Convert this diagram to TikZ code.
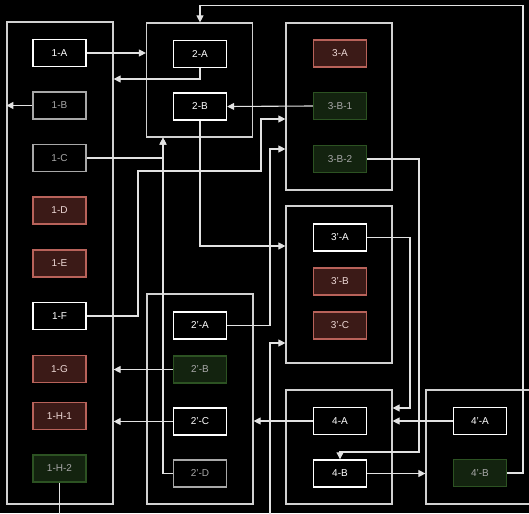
\documentclass[tikz,border=0pt]{standalone}
\usepackage{fontspec}
\setmainfont{Liberation Sans}
\usetikzlibrary{arrows.meta}
\definecolor{redfill}{HTML}{3B1A17}
\definecolor{redline}{HTML}{B8625A}
\definecolor{greenfill}{HTML}{13230F}
\definecolor{greenline}{HTML}{2C5222}
\definecolor{grayline}{HTML}{A8A8A8}
\definecolor{frameline}{HTML}{D0D0D0}
\definecolor{edgeline}{HTML}{E2E2E2}
\begin{document}
\begin{tikzpicture}[x=1pt,y=-1pt,
  box/.style={draw, line width=1.4pt, minimum width=53pt, minimum height=27pt, inner sep=0pt, font=\fontsize{10}{11}\selectfont},
  wbox/.style={box, draw=white, fill=black, text=white},
  gbox/.style={box, draw=grayline, fill=black, text=grayline},
  rbox/.style={box, draw=redline, fill=redfill, text=white!75!redline},
  grbox/.style={box, draw=greenline, fill=greenfill, text=grayline},
  grp/.style={draw=frameline, line width=1.2pt, inner sep=0pt, minimum width=106pt},
  arr/.style={draw=edgeline, line width=1.1pt, -{Triangle[length=7pt,width=7pt]}},
  ln/.style={draw=edgeline, line width=1.1pt}]
\useasboundingbox (0,0) rectangle (529,513);
\fill[black] (0,0) rectangle (529,513);
\clip (0,0) rectangle (529,513);
% groups
\node[grp, minimum height=482pt] (G1) at (60,263) {};
\node[grp, minimum height=114pt] (G2) at (199.5,80) {};
\node[grp, minimum height=167pt] (G3) at (339,106.5) {};
\node[grp, minimum height=157pt] (G3p) at (339,284.5) {};
\node[grp, minimum height=210pt] (G2p) at (200,399) {};
\node[grp, minimum height=114pt] (G4) at (339,447) {};
\node[grp, minimum height=114pt] (G4p) at (479,447) {};
% group 1
\node[wbox] (n1A) at (59.5,53) {1-A};
\node[gbox] (n1B) at (59.5,105.5) {1-B};
\node[gbox] (n1C) at (59.5,158) {1-C};
\node[rbox] (n1D) at (59.5,210.5) {1-D};
\node[rbox] (n1E) at (59.5,263.5) {1-E};
\node[wbox] (n1F) at (59.5,316) {1-F};
\node[rbox] (n1G) at (59.5,369) {1-G};
\node[rbox] (n1H1) at (59.5,416) {1-H-1};
\node[grbox] (n1H2) at (59.5,468.5) {1-H-2};
% group 2
\node[wbox] (n2A) at (200,54) {2-A};
\node[wbox] (n2B) at (200,106.5) {2-B};
% group 3
\node[rbox] (n3A) at (340,53.5) {3-A};
\node[grbox] (n3B1) at (340,106) {3-B-1};
\node[grbox] (n3B2) at (340,159) {3-B-2};
% group 3'
\node[wbox] (n3pA) at (340,237.5) {3'-A};
\node[rbox] (n3pB) at (340,281.5) {3'-B};
\node[rbox] (n3pC) at (340,325.5) {3'-C};
% group 2'
\node[wbox] (n2pA) at (200,325.5) {2'-A};
\node[grbox] (n2pB) at (200,369.5) {2'-B};
\node[wbox] (n2pC) at (200,421.5) {2'-C};
\node[gbox] (n2pD) at (200,473.5) {2'-D};
% group 4
\node[wbox] (n4A) at (340,421) {4-A};
\node[wbox] (n4B) at (340,473.5) {4-B};
% group 4'
\node[wbox] (n4pA) at (480,421) {4'-A};
\node[grbox] (n4pB) at (480,473) {4'-B};
% connectors
\draw[arr] (n1A.east) -- (n1A.east -| G2.west);
\draw[arr] (n2A.south) |- (G1.east |- 0,79);
\draw[arr] (n1B.west) -- (n1B.west -| G1.west);
\draw[arr] (n3B1.west) -- (n2B.east);
\draw[arr] (n1C.east) -| (G2.south -| 163,0);
\draw[arr] (n2pD.west) -| (G2.south -| 163,0);
\draw[arr] (n2B.south) |- (G3p.west |- 0,246);
\draw[arr] (n1F.east) -- (138,316) -- (138,171) -- (261,171) -- (261,119) -- (G3.west |- 0,119);
\draw[arr] (n2pA.east) -- (270,325.5) -- (270,149) -- (G3.west |- 0,149);
\draw[arr] (n1H2.south) -- (59.5,530) -- (270,530) -- (270,343) -- (G3p.west |- 0,343);
\draw[arr] (n3B2.east) -- (419,159) -- (419,452) -- (340,452) -- (n4B.north);
\draw[arr] (n3pA.east) -- (410,237.5) -- (410,408) -- (G4.east |- 0,408);
\draw[arr] (n4pA.west) -- (n4pA.west -| G4.east);
\draw[arr] (n4A.west) -- (n4A.west -| G2p.east);
\draw[arr] (n2pC.west) -- (n2pC.west -| G1.east);
\draw[arr] (n2pB.west) -- (n2pB.west -| G1.east);
\draw[arr] (n4B.east) -- (n4B.east -| G4p.west);
\draw[arr] (n4pB.east) -- (523,473) -- (523,5.5) -- (200,5.5) -- (n2A |- G2.north);
\end{tikzpicture}
\end{document}
